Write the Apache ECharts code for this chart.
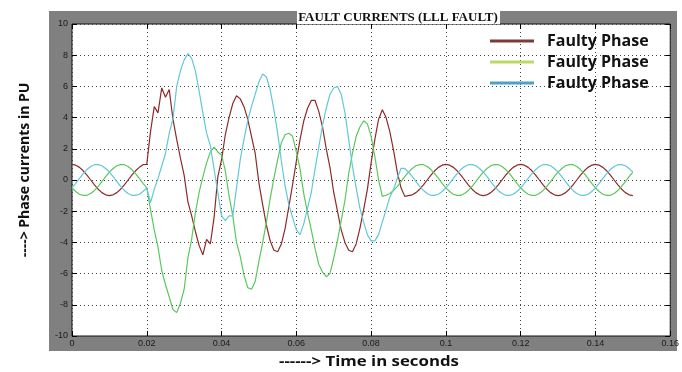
<!DOCTYPE html>
<html>
<head>
<meta charset="utf-8">
<script src="https://cdn.jsdelivr.net/npm/echarts@6/dist/echarts.min.js"></script>
<style>
  html, body { margin: 0; padding: 0; background: #fff; }
  #chart { width: 682px; height: 372px; }
</style>
</head>
<body>
<div id="chart"></div>
<script>
// time in seconds (1 ms steps)
const time = [
  0, 0.001, 0.002, 0.003, 0.004, 0.005, 0.006, 0.007, 0.008, 0.009,
  0.010, 0.011, 0.012, 0.013, 0.014, 0.015, 0.016, 0.017, 0.018, 0.019,
  0.020, 0.021, 0.022, 0.023, 0.024, 0.025, 0.026, 0.027, 0.028, 0.029,
  0.030, 0.031, 0.032, 0.033, 0.034, 0.035, 0.036, 0.037, 0.038, 0.039,
  0.040, 0.041, 0.042, 0.043, 0.044, 0.045, 0.046, 0.047, 0.048, 0.049,
  0.050, 0.051, 0.052, 0.053, 0.054, 0.055, 0.056, 0.057, 0.058, 0.059,
  0.060, 0.061, 0.062, 0.063, 0.064, 0.065, 0.066, 0.067, 0.068, 0.069,
  0.070, 0.071, 0.072, 0.073, 0.074, 0.075, 0.076, 0.077, 0.078, 0.079,
  0.080, 0.081, 0.082, 0.083, 0.084, 0.085, 0.086, 0.087, 0.088, 0.089,
  0.090, 0.091, 0.092, 0.093, 0.094, 0.095, 0.096, 0.097, 0.098, 0.099,
  0.100, 0.101, 0.102, 0.103, 0.104, 0.105, 0.106, 0.107, 0.108, 0.109,
  0.110, 0.111, 0.112, 0.113, 0.114, 0.115, 0.116, 0.117, 0.118, 0.119,
  0.120, 0.121, 0.122, 0.123, 0.124, 0.125, 0.126, 0.127, 0.128, 0.129,
  0.130, 0.131, 0.132, 0.133, 0.134, 0.135, 0.136, 0.137, 0.138, 0.139,
  0.140, 0.141, 0.142, 0.143, 0.144, 0.145, 0.146, 0.147, 0.148, 0.149,
  0.150
];

// phase currents in PU
const phaseA = [
  1, 0.95, 0.81, 0.59, 0.31, 0, -0.31, -0.59, -0.81, -0.95,
  -1, -0.95, -0.81, -0.59, -0.31, 0, 0.31, 0.59, 0.81, 0.98,
  1, 3.1, 4.7, 4.3, 5.9, 5.3, 5.8, 3.9, 2.6, 1.4,
  0.3, -1.4, -2.3, -3.3, -4.2, -4.8, -3.8, -4.1, -2.4, 0.2,
  1.3, 2.9, 4.0, 4.9, 5.4, 5.2, 4.7, 3.9, 2.8, 1.7,
  -0.2, -1.6, -2.9, -3.9, -4.5, -4.6, -4.1, -3.1, -1.7, -0.3,
  1.2, 2.6, 3.8, 4.6, 5.1, 5.1, 4.4, 3.4, 2.0, 0.8,
  -0.8, -2.0, -3.2, -4.0, -4.5, -4.6, -4.1, -3.1, -1.9, -0.6,
  1.1, 2.6, 3.9, 4.5, 4.0, 3.1, 1.9, 0.5, -0.5, -1.05,
  -1, -0.95, -0.81, -0.59, -0.31, 0, 0.31, 0.59, 0.81, 0.95,
  1, 0.95, 0.81, 0.59, 0.31, 0, -0.31, -0.59, -0.81, -0.95,
  -1, -0.95, -0.81, -0.59, -0.31, 0, 0.31, 0.59, 0.81, 0.95,
  1, 0.95, 0.81, 0.59, 0.31, 0, -0.31, -0.59, -0.81, -0.95,
  -1, -0.95, -0.81, -0.59, -0.31, 0, 0.31, 0.59, 0.81, 0.95,
  1, 0.95, 0.81, 0.59, 0.31, 0, -0.31, -0.59, -0.81, -0.95,
  -1
];

const phaseB = [
  -0.5, -0.74, -0.91, -0.99, -0.98, -0.87, -0.67, -0.41, -0.10, 0.21,
  0.5, 0.74, 0.91, 0.99, 0.98, 0.87, 0.67, 0.41, 0.10, -0.21,
  -0.5, -1.9, -3.2, -4.3, -5.8, -6.7, -7.5, -8.3, -8.5, -7.9,
  -7.0, -5.0, -3.8, -2.1, -0.8, 0.2, 1.1, 1.8, 2.1, 1.8,
  1.6, 0.6, -1.0, -2.3, -4.0, -4.9, -6.1, -6.9, -7.0, -6.5,
  -5.2, -4.0, -2.7, -1.2, 0.1, 1.3, 2.4, 2.9, 3.0, 2.8,
  1.8, 0.7, -0.9, -2.1, -3.2, -4.4, -5.4, -5.9, -6.2, -6.0,
  -5.0, -3.9, -2.6, -1.3, 0.4, 1.7, 2.8, 3.4, 3.8, 3.6,
  2.8, 1.5, 0.0, -1.05, -0.98, -0.87, -0.67, -0.41, -0.10, 0.21,
  0.5, 0.74, 0.91, 0.99, 0.98, 0.87, 0.67, 0.41, 0.10, -0.21,
  -0.5, -0.74, -0.91, -0.99, -0.98, -0.87, -0.67, -0.41, -0.10, 0.21,
  0.5, 0.74, 0.91, 0.99, 0.98, 0.87, 0.67, 0.41, 0.10, -0.21,
  -0.5, -0.74, -0.91, -0.99, -0.98, -0.87, -0.67, -0.41, -0.10, 0.21,
  0.5, 0.74, 0.91, 0.99, 0.98, 0.87, 0.67, 0.41, 0.10, -0.21,
  -0.5, -0.74, -0.91, -0.99, -0.98, -0.87, -0.67, -0.41, -0.10, 0.21,
  0.5
];

const phaseC = [
  -0.5, -0.21, 0.10, 0.41, 0.67, 0.87, 0.98, 0.99, 0.91, 0.74,
  0.5, 0.21, -0.10, -0.41, -0.67, -0.87, -0.98, -0.99, -0.91, -0.74,
  -0.5, -1.45, -0.6, 0.1, 0.9, 1.7, 3.0, 3.9, 6.0, 7.0,
  7.7, 8.1, 7.8, 7.0, 5.7, 4.3, 3.0, 2.2, 0.7, -0.8,
  -2.3, -2.6, -2.3, -2.3, -0.5, 1.3, 2.6, 3.8, 4.7, 5.5,
  6.3, 6.8, 6.6, 5.8, 4.5, 3.0, 1.2, -0.4, -1.6, -2.4,
  -3.2, -3.5, -2.8, -1.8, -0.8, 0.7, 2.1, 3.5, 4.6, 5.5,
  5.9, 6.0, 5.5, 4.3, 2.6, 0.9, -0.5, -1.8, -2.7, -3.5,
  -3.9, -3.9, -3.5, -2.7, -1.9, -1.1, -0.6, 0.1, 0.75, 0.74,
  0.5, 0.21, -0.10, -0.41, -0.67, -0.87, -0.98, -0.99, -0.91, -0.74,
  -0.5, -0.21, 0.10, 0.41, 0.67, 0.87, 0.98, 0.99, 0.91, 0.74,
  0.5, 0.21, -0.10, -0.41, -0.67, -0.87, -0.98, -0.99, -0.91, -0.74,
  -0.5, -0.21, 0.10, 0.41, 0.67, 0.87, 0.98, 0.99, 0.91, 0.74,
  0.5, 0.21, -0.10, -0.41, -0.67, -0.87, -0.98, -0.99, -0.91, -0.74,
  -0.5, -0.21, 0.10, 0.41, 0.67, 0.87, 0.98, 0.99, 0.91, 0.74,
  0.5
];

// same legend text three times; trailing spaces keep the series apart
const seriesNames = ["Faulty Phase", "Faulty Phase ", "Faulty Phase  "];
const lineColors = ["#8e2a2a", "#5cc85c", "#62c8d8"];
const legendColors = ["#7d3a3a", "#bcd86a", "#4aa2c6"];

const chart = echarts.init(document.getElementById("chart"));

const tickAxis = {
  axisLine: { show: false, onZero: false },
  axisTick: { inside: true, length: 5, lineStyle: { color: "#000" } },
  axisLabel: { show: false },
  splitLine: { show: false }
};

const option = {
  backgroundColor: "#fff",
  animation: false,
  grid: {
    left: 72, top: 24, right: 9, bottom: 36,
    show: true, backgroundColor: "#fff", borderColor: "#111", borderWidth: 1
  },
  legend: {
    orient: "vertical",
    left: 485, top: 28,
    itemWidth: 44, itemHeight: 3, itemGap: 5,
    textStyle: { fontFamily: "Open Sans", fontWeight: "bold", fontSize: 16, color: "#111", padding: [0, 0, 0, 8] },
    formatter: (n) => n.trim(),
    data: seriesNames.map((n, i) => ({ name: n, icon: "rect", itemStyle: { color: legendColors[i] } }))
  },
  xAxis: [
    {
      type: "value", min: 0, max: 0.16, interval: 0.02,
      axisLine: { show: false, onZero: false },
      axisTick: { inside: true, length: 5, lineStyle: { color: "#000" } },
      axisLabel: { fontFamily: "Liberation Sans", fontSize: 9, color: "#1a1a1a", margin: 3 },
      splitLine: { show: true, lineStyle: { type: [1, 3], color: "#444", width: 1 } }
    },
    Object.assign({ type: "value", min: 0, max: 0.16, interval: 0.02, position: "top" }, tickAxis)
  ],
  yAxis: [
    {
      type: "value", min: -10, max: 10, interval: 2,
      axisLine: { show: false, onZero: false },
      axisTick: { inside: true, length: 5, lineStyle: { color: "#000" } },
      axisLabel: { fontFamily: "Liberation Sans", fontSize: 9, color: "#1a1a1a", margin: 4 },
      splitLine: { show: true, lineStyle: { type: [1, 3], color: "#444", width: 1 } }
    },
    Object.assign({ type: "value", min: -10, max: 10, interval: 2, position: "right" }, tickAxis)
  ],
  series: [phaseA, phaseB, phaseC].map((vals, i) => ({
    name: seriesNames[i],
    type: "line",
    symbol: "none",
    lineStyle: { color: lineColors[i], width: 1.2 },
    itemStyle: { color: lineColors[i] },
    data: time.map((t, j) => [t, vals[j]])
  })),
  graphic: [
    { type: "rect", z: -10, shape: { x: 49, y: 11, width: 628, height: 340 }, style: { fill: "#808080" } },
    { type: "rect", z: 50, shape: { x: 297, y: 11, width: 203, height: 13 }, style: { fill: "#fff" } },
    {
      type: "text", z: 51, x: 398, y: 18,
      style: { text: "FAULT CURRENTS (LLL FAULT)", fill: "#111", font: "bold 13px 'Liberation Serif'", textAlign: "center", textVerticalAlign: "middle" }
    },
    {
      type: "text", x: 279, y: 362, scaleX: 1.2,
      style: { text: "------> Time in seconds", fill: "#111", font: "bold 14px 'Open Sans'", textAlign: "left", textVerticalAlign: "middle" }
    },
    {
      type: "text", x: 25, y: 170, rotation: Math.PI / 2,
      style: { text: "----> Phase currents in PU", fill: "#111", font: "bold 14px 'Open Sans'", textAlign: "center", textVerticalAlign: "middle" }
    }
  ]
};

chart.setOption(option);
</script>
</body>
</html>
